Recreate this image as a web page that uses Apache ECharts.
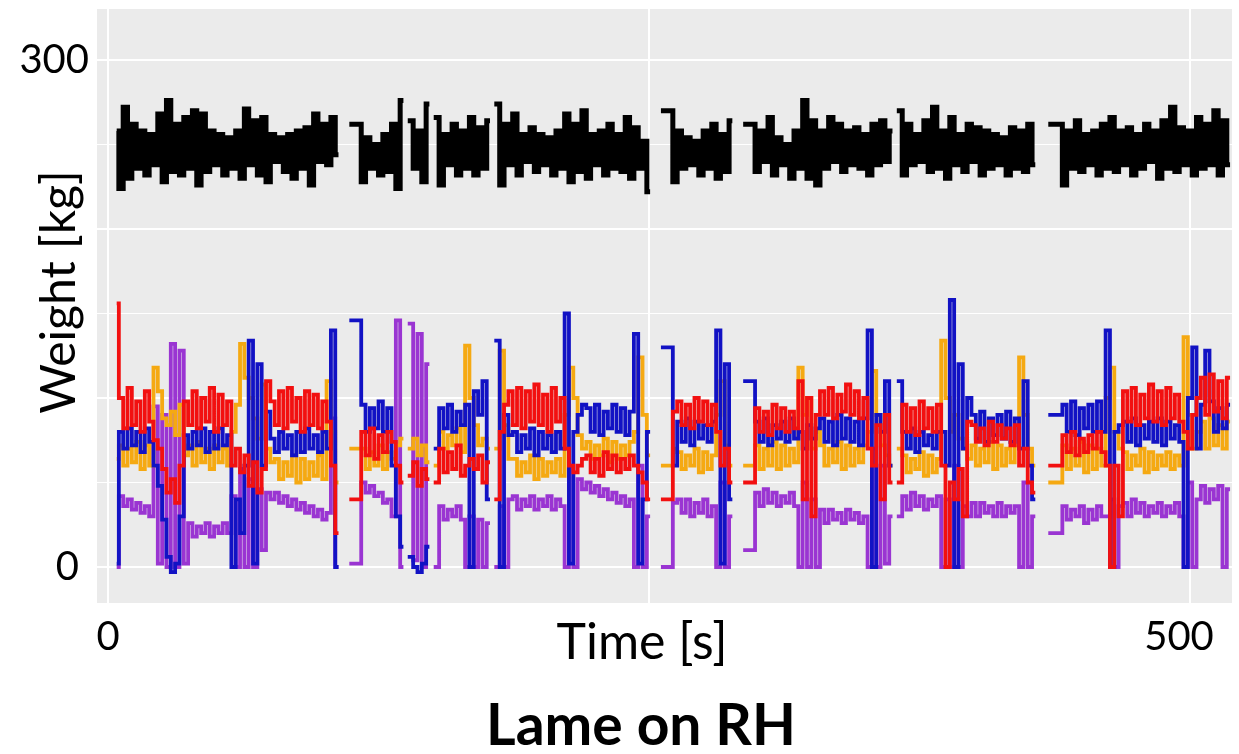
<!DOCTYPE html>
<html>
<head>
<meta charset="utf-8">
<script src="https://cdn.jsdelivr.net/npm/echarts@6/dist/echarts.min.js"></script>
<style>
  html, body { margin: 0; padding: 0; background: #fff; }
  #chart { width: 1239px; height: 754px; }
</style>
</head>
<body>
<div id="chart"></div>
<script>
// sampling step (s) and start time of each recorded bout
const step = 2;
const segStart = [4, 116, 140, 152, 180, 260, 298, 366, 440];

// total weight (black)
const blackSegs = [
  [258,224,272,230,262,236,258,232,256,238, 268,228,276,234,262,232,266,236,270,226,
   268,234,258,238,256,232,254,236,258,230, 271,238,264,232,266,228,256,240,254,234,
   256,230,258,236,260,226,268,240,262,238, 266,244],
  [262,228,254,236,250,232,256,234,262,224,276],
  [264,236,258,228,274],
  [266,226,256,238,262,232,258,236,266,232,260,236,264],
  [274,226,262,238,268,232,256,240,260,234, 256,238,254,232,258,236,268,228,262,234,
   270,230,256,238,258,232,262,236,256,234, 266,230,260,236,252,222],
  [270,228,258,236,254,238,252,232,258,236,262,230,256,234,264],
  [262,234,258,240,266,232,254,238,250,230, 258,236,276,230,264,226,258,236,266,240,
   262,234,258,238,260,236,256,232,262,238, 264,240,258],
  [270,232,262,238,256,240,264,234,272,236, 258,230,266,238,256,234,262,240,260,232,
   258,236,256,238,254,232,260,236,258,234, 262,238],
  [262,226,258,236,264,234,256,238,258,232, 262,236,266,234,258,238,260,232,256,236,
   262,240,258,230,264,236,272,234,260,238, 258,232,266,236,262,238,270,232,264,238]
];

const redSegs = [
  [156, 100,82,106,84,98,80,104,86, 75,70,58,44,52,38,60,98,
   84,104,82,100,86,106,80,102,84,98, 60,70,56,66,48,62,44,58,110,98,
   84,104,82,106,86,100,80,104,84,102,82,98,86, 60,20],
  [40, 80,66,82,64,78,68,80, 74,60,50],
  [54,62,48,58,52],
  [50, 70,56,68,58,72,54, 60,64,58,66,50,62],
  [40,80,96,104, 84,106,82,104,86,108,84,102,80,106,86,100, 70,60,56,60,64,
   66,56,64,54,68,58,66,56,64,58,66, 60,56,50,40],
  [40,92, 98,84,96,82,100,86,98,84,96, 80,60,70,50],
  [50, 94,80,92,78,96,82,94,80,92,82, 110,40,100,30,90,
   104,90,106,88,102,92,108,90,104,88,100, 70,60,84,40,90,50],
  [50, 96,80,94,78,98,82,94,80,96, 60,0,50,40,58,30,86,
   84,74,82,72,86,74,84,76,82,72,84, 60,70,50,44],
  [60, 78,68,80,66,76,68,78,70,80,68, 60,0,60,30,
   104,86,106,84,102,88,108,86,104,84,106,88,102,86, 80,70,90,100,
   112,90,114,92,110,88,112]
];

const blueSegs = [
  [2, 80,70,82,72,80,68,82,74, 60,48,28,6,-3,2,30,78,
   70,80,72,82,68,80,70,82,72,78, 0,40,20,60,134,2,120,60,92,76,
   68,80,70,78,66,80,68,82,70,78,68,80,70, 140,0],
  [146, 96,80,94,82,98,80,94, 60,30,12],
  [6,0,-3,2,12],
  [70, 94,82,96,80,92,84, 96,0,104,90,110,40],
  [134,0,90,78, 80,68,78,70,82,66,80,70,78,68,80,70, 150,2,80,90,96,
   94,80,96,78,92,82,96,80,94,78,92, 138,2,40,80],
  [130,60, 86,74,88,72,86,76,84,74,86, 140,2,120,40],
  [110, 86,74,88,72,84,76,86,74,88,76, 80,70,84,76,82,
   88,74,86,72,90,76,88,74,86,72,88, 140,0,90,80,110,60],
  [110, 80,70,82,68,80,72,78,70,80, 80,60,158,0,120,70,100,
   90,76,92,74,88,78,90,76,92,74,88, 70,110,60,40],
  [90, 96,80,98,78,94,82,96,80,98,80, 140,0,80,84,
   86,74,88,72,84,76,86,74,88,72,86,76,84,74, 0,100,130,70,
   96,128,98,80,94,82,96]
];

const orangeSegs = [
  [64, 72,60,70,62,74,58,72,60, 118,104,88,84,92,78,96,66,
   72,60,74,62,70,58,72,62,70,60, 80,96,132,112,100,88,76,108,70,62,
   64,52,62,54,66,50,64,52,62,54,66,52,110, 80,50],
  [70, 70,58,68,60,72,58,68, 64,72,76],
  [70,76,66,72,62],
  [60, 80,70,78,72,82,68, 131,100,84,72,76,70],
  [70,128,84,64, 64,54,62,56,66,52,64,54,62,56,64,54, 90,118,100,78,70,
   74,64,72,66,76,62,74,64,72,66,74, 80,124,90,66],
  [60,70, 68,58,66,60,70,56,68,58,66, 90,110,72,60],
  [60, 72,58,70,60,74,58,72,60,70,62, 118,90,100,70,80,
   72,60,70,62,74,58,72,60,70,62,72, 80,116,90,72,66,60],
  [70, 66,56,64,58,68,54,66,56,64, 134,100,80,90,76,70,64,
   72,60,70,62,74,58,72,60,70,62,72, 124,90,70,60],
  [50, 72,58,70,60,74,56,72,58,70,60, 100,118,80,70,
   68,58,66,60,70,56,68,58,66,60,68,58,66,60, 136,90,70,80,
   86,70,88,72,84,70,86]
];

const purpleSegs = [
  [0, 42,36,40,34,38,32,36,30, 95,2,90,0,132,0,128,2,
   26,18,24,20,26,18,24,20,26,20, 42,0,58,0,52,0,46,10,44,40,
   44,38,42,36,40,34,38,32,36,30,34,28,32, 88,0],
  [2, 50,44,48,42,44,38,40, 30,146,0],
  [144,4,138,0,120],
  [0, 36,28,34,30,36,28, 0,30,0,28,0,26],
  [0,36,0,40, 42,34,40,36,42,34,40,36,42,34,40,36, 0,60,0,52,46,
   50,44,48,42,46,40,44,38,42,36,40, 0,60,0,30],
  [0,38, 40,32,40,30,38,32,40,30,36, 0,50,0,30],
  [10, 44,36,46,38,44,36,42,38,44,36, 0,50,0,40,0,
   34,26,34,28,32,26,34,28,32,26,30, 0,70,0,60,2,30],
  [30, 42,34,44,36,42,34,40,36,42, 0,40,0,60,0,36,30,
   38,30,38,32,36,30,38,30,36,32,36, 0,50,0,30],
  [20, 36,28,34,30,36,26,34,28,36,30, 30,40,0,36,
   38,30,40,32,38,30,36,32,38,30,36,32,38,30, 0,50,0,40,
   48,38,46,40,48,0,46]
];

const xTicks = [0, 500];
const yTicks = [0, 300];
const xGrid = [0, 250, 500];
const yGrid = [0, 50, 100, 150, 200, 250, 300];

const fontFamily = 'Lato, "Open Sans", sans-serif';

// turn bouts into [t, kg] pairs, with a break between bouts
function toData(segs) {
  const out = [];
  segs.forEach((seg, k) => {
    seg.forEach((v, j) => out.push([segStart[k] + j * step, v]));
    out.push([segStart[k] + (seg.length - 0.5) * step, null]);
  });
  return out;
}

function lineSeries(name, segs, color, width, z) {
  return {
    name: name,
    type: 'line',
    step: 'middle',
    data: toData(segs),
    showSymbol: false,
    connectNulls: false,
    lineStyle: { color: color, width: width, join: 'miter', cap: 'butt' },
    z: z,
    silent: true
  };
}

const chart = echarts.init(document.getElementById('chart'), null, { renderer: 'canvas' });

const option = {
  animation: false,
  backgroundColor: '#ffffff',
  grid: {
    left: 97, right: 7, top: 9, bottom: 151,
    show: true, backgroundColor: '#EBEBEB', borderWidth: 0
  },
  xAxis: {
    type: 'value',
    min: -5.1,
    max: 519.4,
    axisLine: { show: false },
    splitLine: { show: false },
    axisTick: { show: true, customValues: xTicks, length: 4, lineStyle: { color: '#444', width: 2 } },
    axisLabel: {
      customValues: xTicks, fontSize: 40, fontFamily: fontFamily, color: '#000', margin: 14,
      formatter: v => (v === 500 ? '{r|500}' : '' + v),
      rich: { r: { fontSize: 40, fontFamily: fontFamily, color: '#000', padding: [0, 22, 0, 0] } }
    }
  },
  yAxis: {
    type: 'value',
    min: -21.3,
    max: 330.2,
    axisLine: { show: false },
    splitLine: { show: false },
    axisTick: { show: false },
    axisLabel: {
      customValues: yTicks, fontSize: 40, fontFamily: fontFamily, color: '#000', margin: 8,
      formatter: v => (v === 0 ? '{z|0}' : '' + v),
      rich: { z: { fontSize: 40, fontFamily: fontFamily, color: '#000', padding: [0, 10, 0, 0] } }
    }
  },
  graphic: [
    {
      type: 'text', x: 60, y: 292, rotation: Math.PI / 2,
      style: { text: 'Weight [kg]', fontSize: 48, fontFamily: fontFamily, fill: '#000', align: 'center', verticalAlign: 'middle' }
    },
    {
      type: 'text', x: 642, y: 643,
      style: { text: 'Time [s]', fontSize: 50, fontFamily: fontFamily, fill: '#000', align: 'center', verticalAlign: 'middle' }
    },
    {
      type: 'text', x: 641, y: 727,
      style: { text: 'Lame on RH', fontSize: 57, fontWeight: 'bold', fontFamily: fontFamily, fill: '#000', align: 'center', verticalAlign: 'middle' }
    }
  ],
  series: [
    {
      type: 'line',
      data: [[0, null]],
      z: 1,
      silent: true,
      markLine: {
        z: 1,
        symbol: 'none',
        silent: true,
        animation: false,
        label: { show: false },
        data: yGrid.map(v => ({ yAxis: v, lineStyle: { color: '#FFFFFF', width: v % 100 === 0 ? 2 : 1.2, type: 'solid' } }))
          .concat(xGrid.map(v => ({ xAxis: v, lineStyle: { color: '#FFFFFF', width: 2, type: 'solid' } })))
      }
    },
    lineSeries('Total', blackSegs, '#000000', 5, 3),
    lineSeries('LH', purpleSegs, '#9A35D2', 3.8, 4),
    lineSeries('RF', orangeSegs, '#F5A912', 3.8, 5),
    lineSeries('LF', blueSegs, '#1212C4', 3.8, 6),
    lineSeries('RH', redSegs, '#F21010', 3.8, 7)
  ]
};

chart.setOption(option);
</script>
</body>
</html>
